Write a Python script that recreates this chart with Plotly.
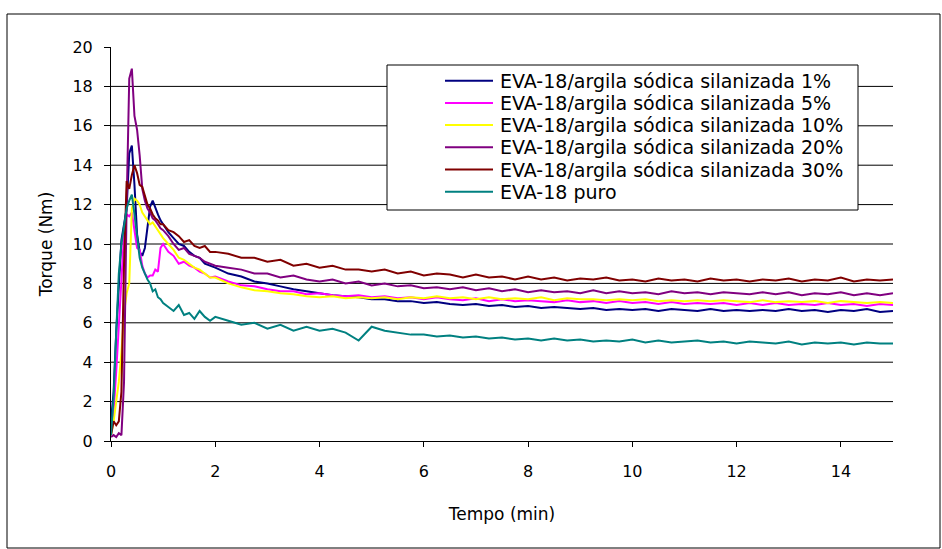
import plotly.graph_objects as go

# ---------------- data ----------------
tempo = [0, 0.05, 0.1, 0.15, 0.2, 0.25, 0.3, 0.35, 0.4, 0.45, 0.5, 0.55, 0.6, 0.65, 0.7, 0.75, 0.8, 0.85, 0.9, 0.95, 1.0,
         1.1, 1.2, 1.3, 1.4, 1.5, 1.6, 1.7, 1.8, 1.9, 2.0,
         2.25, 2.5, 2.75, 3.0, 3.25, 3.5, 3.75, 4.0, 4.25, 4.5, 4.75, 5.0, 5.25, 5.5, 5.75, 6.0,
         6.25, 6.5, 6.75, 7.0, 7.25, 7.5, 7.75, 8.0, 8.25, 8.5, 8.75, 9.0, 9.25, 9.5, 9.75, 10.0,
         10.25, 10.5, 10.75, 11.0, 11.25, 11.5, 11.75, 12.0, 12.25, 12.5, 12.75, 13.0,
         13.25, 13.5, 13.75, 14.0, 14.25, 14.5, 14.75, 15.0]

torque_1 = [1.0, 2.5, 5.5, 8.0, 10.2, 11.0, 11.8, 14.6, 15.0, 13.0, 10.5, 9.6, 9.4, 9.8, 11.0, 11.9, 12.2, 11.8, 11.5, 11.2, 11.0,
            10.6, 10.3, 10.0, 9.9, 9.6, 9.4, 9.3, 9.0, 8.9, 8.8,
            8.5, 8.35, 8.1, 8.0, 7.85, 7.7, 7.6, 7.5, 7.4, 7.35, 7.3, 7.2, 7.2, 7.1, 7.1, 7.0,
            7.05, 6.95, 6.9, 6.95, 6.85, 6.9, 6.8, 6.85, 6.75, 6.8, 6.75, 6.7, 6.75, 6.65, 6.7, 6.65,
            6.7, 6.6, 6.7, 6.65, 6.6, 6.7, 6.6, 6.65, 6.6, 6.65, 6.6, 6.7,
            6.6, 6.65, 6.55, 6.65, 6.6, 6.7, 6.55, 6.6]

torque_5 = [0.5, 1.5, 3.5, 6.0, 8.5, 10.5, 11.5, 11.4, 11.6, 10.8, 9.8, 9.7, 8.9, 8.5, 8.3, 8.4, 8.4, 8.7, 8.6, 9.8, 10.0,
            9.6, 9.4, 9.0, 9.1, 8.9, 8.8, 8.6, 8.5, 8.3, 8.35,
            8.1, 7.9, 7.85, 7.7, 7.6, 7.6, 7.45, 7.5, 7.4, 7.35, 7.4, 7.3, 7.35, 7.25, 7.3, 7.2,
            7.3, 7.2, 7.15, 7.25, 7.1, 7.2, 7.1, 7.15, 7.1, 7.05, 7.15, 7.05, 7.1, 7.0, 7.1, 7.0,
            7.05, 6.95, 7.05, 6.95, 7.0, 6.95, 7.0, 6.9, 7.0, 6.9, 7.0, 6.9,
            6.95, 6.9, 7.0, 6.9, 6.95, 6.85, 6.95, 6.9]

torque_10 = [0.3, 1.0, 2.0, 3.0, 4.5, 6.5, 7.5, 8.0, 11.8, 12.3, 12.2, 12.0, 11.6, 11.4, 11.2, 11.0, 11.1, 10.9, 10.7, 10.5, 10.3,
             10.0, 9.7, 9.3, 9.2, 9.0, 8.8, 8.7, 8.5, 8.3, 8.3,
             8.0, 7.8, 7.65, 7.6, 7.5, 7.45, 7.35, 7.3, 7.35, 7.25, 7.3, 7.25, 7.3, 7.2, 7.3, 7.25,
             7.35, 7.25, 7.3, 7.2, 7.3, 7.2, 7.25, 7.2, 7.3, 7.15, 7.25, 7.2, 7.2, 7.15, 7.2, 7.15,
             7.2, 7.1, 7.15, 7.1, 7.15, 7.1, 7.15, 7.1, 7.05, 7.15, 7.05, 7.1,
             7.05, 7.1, 7.0, 7.1, 7.05, 7.0, 7.05, 7.0]

torque_20 = [0.2, 0.3, 0.2, 0.4, 0.3, 3.0, 12.0, 18.4, 18.9, 16.5, 15.8, 14.5, 12.8, 12.2, 11.8, 11.6, 11.3, 11.2, 11.0, 10.8, 10.7,
             10.4, 10.0, 9.7, 9.8, 9.5, 9.4, 9.3, 9.1, 9.0, 8.9,
             8.8, 8.7, 8.5, 8.5, 8.3, 8.4, 8.2, 8.1, 8.2, 8.0, 8.1, 7.9, 8.0, 7.85, 7.9, 7.75,
             7.8, 7.7, 7.8, 7.65, 7.75, 7.6, 7.7, 7.55, 7.65, 7.55, 7.6, 7.5, 7.65, 7.5, 7.6, 7.5,
             7.55, 7.45, 7.6, 7.5, 7.55, 7.45, 7.55, 7.5, 7.45, 7.55, 7.45, 7.55,
             7.4, 7.5, 7.45, 7.55, 7.4, 7.5, 7.4, 7.5]

torque_30 = [0.3, 1.0, 0.8, 1.0, 2.5, 9.0, 13.2, 12.8, 13.5, 14.0, 13.6, 13.0, 12.9, 12.4, 12.0, 11.8, 11.5, 11.3, 11.2, 11.0, 11.0,
             10.7, 10.6, 10.4, 10.1, 10.2, 9.9, 9.8, 9.9, 9.6, 9.6,
             9.5, 9.3, 9.3, 9.1, 9.2, 8.9, 9.0, 8.8, 8.9, 8.7, 8.7, 8.6, 8.7, 8.5, 8.6, 8.4,
             8.5, 8.45, 8.3, 8.45, 8.3, 8.35, 8.2, 8.35, 8.2, 8.3, 8.15, 8.25, 8.2, 8.3, 8.15, 8.2,
             8.1, 8.25, 8.15, 8.2, 8.1, 8.25, 8.15, 8.2, 8.1, 8.2, 8.15, 8.25,
             8.1, 8.2, 8.15, 8.3, 8.1, 8.2, 8.15, 8.2]

torque_puro = [0.3, 2.2, 5.5, 8.5, 10.0, 10.8, 11.8, 12.2, 12.5, 11.5, 10.3, 9.3, 8.8, 8.5, 8.2, 8.0, 7.6, 7.7, 7.3, 7.2, 7.0,
               6.8, 6.6, 6.9, 6.4, 6.5, 6.2, 6.6, 6.3, 6.1, 6.3,
               6.1, 5.9, 6.0, 5.7, 5.9, 5.6, 5.8, 5.6, 5.7, 5.5, 5.1, 5.8, 5.6, 5.5, 5.4, 5.4,
               5.3, 5.35, 5.25, 5.3, 5.2, 5.25, 5.15, 5.2, 5.1, 5.2, 5.1, 5.15, 5.05, 5.1, 5.05, 5.15,
               5.0, 5.1, 5.0, 5.05, 5.1, 5.0, 5.05, 4.95, 5.05, 5.0, 4.95, 5.05,
               4.9, 5.0, 4.95, 5.0, 4.9, 5.0, 4.95, 4.95]

series_names = ["EVA-18/argila sódica silanizada 1%",
                "EVA-18/argila sódica silanizada 5%",
                "EVA-18/argila sódica silanizada 10%",
                "EVA-18/argila sódica silanizada 20%",
                "EVA-18/argila sódica silanizada 30%",
                "EVA-18 puro"]
series_values = [torque_1, torque_5, torque_10, torque_20, torque_30, torque_puro]
series_colors = ["#000080", "#FF00FF", "#FFFF00", "#800080", "#800000", "#008080"]

x_ticks = [0, 2, 4, 6, 8, 10, 12, 14]
y_ticks = [0, 2, 4, 6, 8, 10, 12, 14, 16, 18, 20]
grid_values = [2, 4, 6, 8, 10, 12, 14, 16, 18]

# ---------------- layout geometry (px) ----------------
W, H = 942, 549
L, R, T, B = 111, 893, 47, 441
pw, ph = R - L, B - T


def px(xp):
    return (xp - L) / pw


def py(yp):
    return (B - yp) / ph


FONT = "DejaVu Sans"

fig = go.Figure()
for name, vals, col in zip(series_names, series_values, series_colors):
    fig.add_trace(go.Scatter(x=tempo, y=vals, mode="lines", name=name,
                             line=dict(color=col, width=2), showlegend=False))

shapes = []
# horizontal gridlines
for g in grid_values:
    shapes.append(dict(type="line", xref="x", yref="y", x0=0, x1=15, y0=g, y1=g,
                       line=dict(color="#000000", width=1), layer="below"))
# outer chart border
shapes.append(dict(type="rect", xref="paper", yref="paper",
                   x0=px(7), x1=px(940), y0=py(548), y1=py(14),
                   line=dict(color="#000000", width=1), fillcolor="rgba(0,0,0,0)", layer="above"))
# legend box
shapes.append(dict(type="rect", xref="paper", yref="paper",
                   x0=px(387), x1=px(858), y0=py(210), y1=py(65),
                   line=dict(color="#000000", width=1), fillcolor="#FFFFFF", layer="above"))

annotations = []
row0, step = 80.7, 22.2
for i, (name, col) in enumerate(zip(series_names, series_colors)):
    yy = row0 + step * i
    shapes.append(dict(type="line", xref="paper", yref="paper",
                       x0=px(445), x1=px(493), y0=py(yy), y1=py(yy),
                       line=dict(color=col, width=2), layer="above"))
    annotations.append(dict(xref="paper", yref="paper", x=px(498), y=py(yy),
                            xanchor="left", yanchor="middle", text=name, showarrow=False,
                            font=dict(family=FONT, size=19, color="#000000")))

fig.update_layout(
    width=W, height=H,
    margin=dict(l=L, r=W - R, t=T, b=H - B, autoexpand=False),
    paper_bgcolor="#FFFFFF", plot_bgcolor="#FFFFFF",
    showlegend=False,
    font=dict(family=FONT, size=16, color="#000000"),
    shapes=shapes, annotations=annotations,
    xaxis=dict(range=[0, 15], tickvals=x_ticks, ticks="outside", ticklen=5, tickcolor="#000000",
               showline=True, linecolor="#000000", linewidth=1, showgrid=False, zeroline=False,
               tickfont=dict(family=FONT, size=16), ticklabelstandoff=11,
               title=dict(text="Tempo (min)", font=dict(family=FONT, size=17), standoff=27),
               automargin=False),
    yaxis=dict(range=[0, 20], tickvals=y_ticks, ticks="outside", ticklen=6, tickcolor="#000000",
               showline=True, linecolor="#000000", linewidth=1, showgrid=False, zeroline=False,
               tickfont=dict(family=FONT, size=16), ticklabelstandoff=8,
               title=dict(text="Torque (Nm)", font=dict(family=FONT, size=17), standoff=15),
               automargin=False),
)

fig.write_html("out.html")
